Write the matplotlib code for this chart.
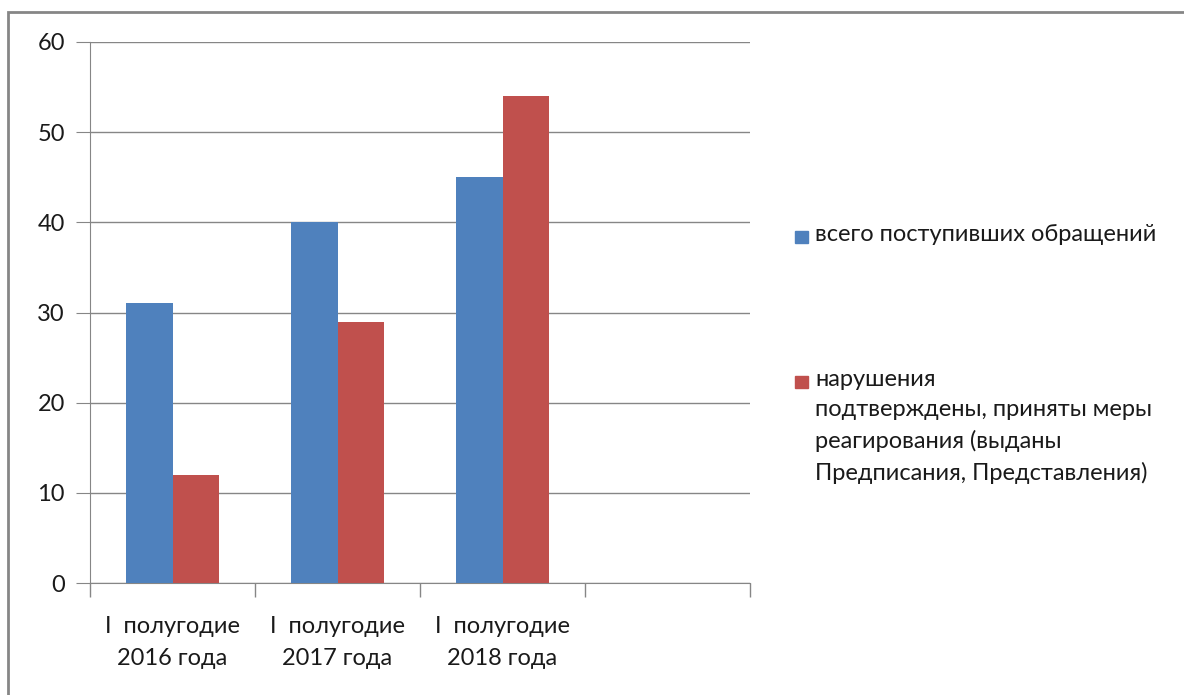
import matplotlib.pyplot as plt
from matplotlib.patches import Rectangle

plt.rcParams['font.family'] = ['Lato', 'DejaVu Sans']

categories = ['I  полугодие\n2016 года', 'I  полугодие\n2017 года', 'I  полугодие\n2018 года', '']
total = [31, 40, 45, None]
violations = [12, 29, 54, None]
series_names = ['всего поступивших обращений',
                'нарушения\nподтверждены, приняты меры\nреагирования (выданы\nПредписания, Представления)']
colors = ['#4F81BD', '#C0504D']
grey = '#868686'
txt = '#1a1a1a'
fs = 17

W, H = 1184, 695
fig = plt.figure(figsize=(W / 100, H / 100), dpi=100)
ax = fig.add_axes([90 / W, 1 - 583 / H, 660 / W, 541 / H])

x = list(range(len(categories)))
bw = 0.28
for i, (a, b) in enumerate(zip(total, violations)):
    if a is not None:
        ax.bar(i - bw / 2, a, width=bw, color=colors[0], zorder=3)
    if b is not None:
        ax.bar(i + bw / 2, b, width=bw, color=colors[1], zorder=3)

ax.set_xlim(-0.5, len(categories) - 0.5)
ax.set_ylim(0, 60)
ax.set_yticks(range(0, 61, 10))
ax.yaxis.grid(True, color=grey, linewidth=1, zorder=0)
ax.tick_params(axis='y', length=10, color=grey, labelsize=fs, pad=8, labelcolor=txt)

ax.set_xticks(x)
ax.set_xticklabels(categories, fontsize=fs, color=txt, linespacing=1.6)
ax.tick_params(axis='x', which='major', length=0, pad=24)
ax.set_xticks([i - 0.5 for i in range(len(categories) + 1)], minor=True)
ax.tick_params(axis='x', which='minor', length=10, color=grey, width=1)

for side in ['top', 'right']:
    ax.spines[side].set_visible(False)
ax.spines['left'].set_color(grey)
ax.spines['bottom'].set_color(grey)

# legend drawn by hand so the square sits on the first line
leg_y = [237, 382]
for c, name, yy in zip(colors, series_names, leg_y):
    fig.patches.append(Rectangle((795 / W, 1 - (yy + 6) / H), 13 / W, 12 / H,
                                 transform=fig.transFigure, color=c))
    fig.text(815 / W, 1 - (yy - 13) / H, name, fontsize=fs, va='top', ha='left',
             color=txt, linespacing=1.55)

# chart frame
fig.patches.append(Rectangle((8 / W, -0.05), 1.1, 1 - 12 / H + 0.05, transform=fig.transFigure,
                             fill=False, edgecolor=grey, linewidth=2))

fig.savefig('out.png', dpi=100)
